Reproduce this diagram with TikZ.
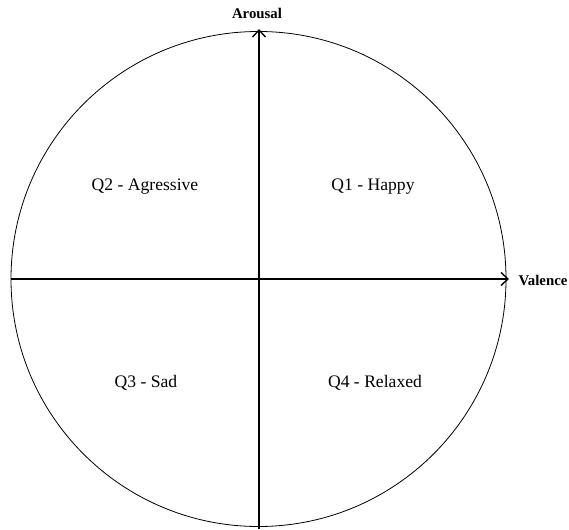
\documentclass[tikz,border=0pt]{standalone}
\usepackage{fontspec}
\setmainfont{Liberation Serif}
\usetikzlibrary{arrows.meta}
\begin{document}
\begin{tikzpicture}[x=1pt,y=-1pt,
  axis/.style={line width=1.6pt,-{Straight Barb[length=7pt,width=13pt,line width=1.4pt]}},
  quad/.style={font=\fontsize{17.6}{20}\selectfont},
  axlabel/.style={font=\fontsize{14.8}{16}\selectfont\bfseries}]
\useasboundingbox (0,0) rectangle (569,529);
\node[draw,circle,line width=0.8pt,minimum size=495pt,inner sep=0pt] (c) at (258.5,279) {};
\coordinate (xl) at (11,279);
\coordinate (xr) at (509,279);
\coordinate (yb) at (259,529);
\coordinate (yt) at (259,29);
\draw[axis] (xl) -- (xr);
\draw[axis] (yb) -- (yt);
\node[axlabel] (ar) at (257,13) {Arousal};
\node[axlabel] (va) at (543,280) {Valence};
\node[quad] (q2) at (145,187) {Q2 - Agressive};
\node[quad] (q1) at (373,187) {Q1 - Happy};
\node[quad] (q3) at (146,383) {Q3 - Sad};
\node[quad] (q4) at (375,383) {Q4 - Relaxed};
\end{tikzpicture}
\end{document}
